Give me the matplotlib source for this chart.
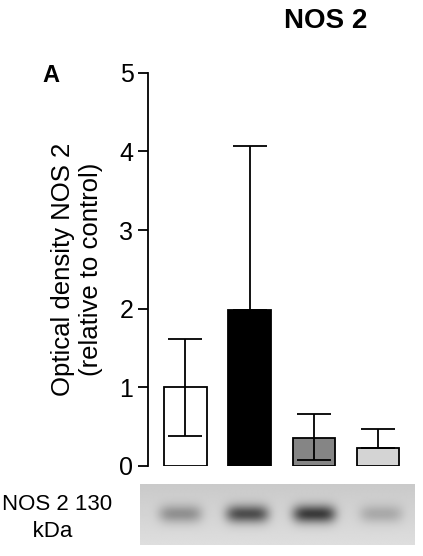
import numpy as np
import matplotlib
matplotlib.use("Agg")
import matplotlib.pyplot as plt

plt.rcParams["font.family"] = ["Liberation Sans", "DejaVu Sans"]

groups = ["control", "g2", "g3", "g4"]
means = [1.0, 1.98, 0.36, 0.23]
err_up = [0.62, 2.09, 0.30, 0.24]
err_low = [0.62, 0.0, 0.28, 0.0]
colors = ["white", "black", "#858585", "#d4d4d4"]
band_strength = [0.35, 0.7, 0.8, 0.22]  # relative darkness of blot bands

fig = plt.figure(figsize=(4.23, 5.56), dpi=100)
ax = fig.add_axes([0.35, 0.162, 0.62, 0.707])
x = np.arange(len(groups))
ax.bar(x, means, width=0.66, color=colors, edgecolor="black", linewidth=1.3, zorder=2)
ax.errorbar(x, means, yerr=[err_low, err_up], fmt="none", ecolor="black",
            elinewidth=1.3, capsize=12, capthick=1.3, zorder=3)
ax.set_xlim(-0.58, 3.5)
ax.set_ylim(0, 5)
ax.set_yticks(range(6))
ax.tick_params(axis="y", labelsize=18, width=1.3, length=7)
ax.set_xticks([])
for s in ["top", "right", "bottom"]:
    ax.spines[s].set_visible(False)
ax.spines["left"].set_linewidth(1.3)
ax.set_ylabel("Optical density NOS 2\n(relative to control)", fontsize=18.5, labelpad=12)
fig.text(0.77, 0.962, "NOS 2", fontsize=20, fontweight="bold", ha="center", va="center")
fig.text(0.12, 0.865, "A", fontsize=17, fontweight="bold", ha="center", va="center")

# blot strip
bax = fig.add_axes([0.33, 0.02, 0.65, 0.11])
xx = np.linspace(-0.6, 3.5, 400)
yy = np.linspace(-1, 1, 60)
X, Y = np.meshgrid(xx, yy)
img = np.full_like(X, 0.83) + 0.04 * Y
for i, s in enumerate(band_strength):
    img -= s * 0.75 * np.exp(-((X - i) / 0.32) ** 4) * np.exp(-(Y / 0.3) ** 2)
bax.imshow(img, cmap="gray", vmin=0, vmax=1, aspect="auto",
           extent=[-0.6, 3.5, -1, 1])
bax.axis("off")
fig.text(0.005, 0.068, "NOS 2 130\n     kDa", fontsize=16, va="center", linespacing=1.4)

fig.savefig("out.png", dpi=100)
